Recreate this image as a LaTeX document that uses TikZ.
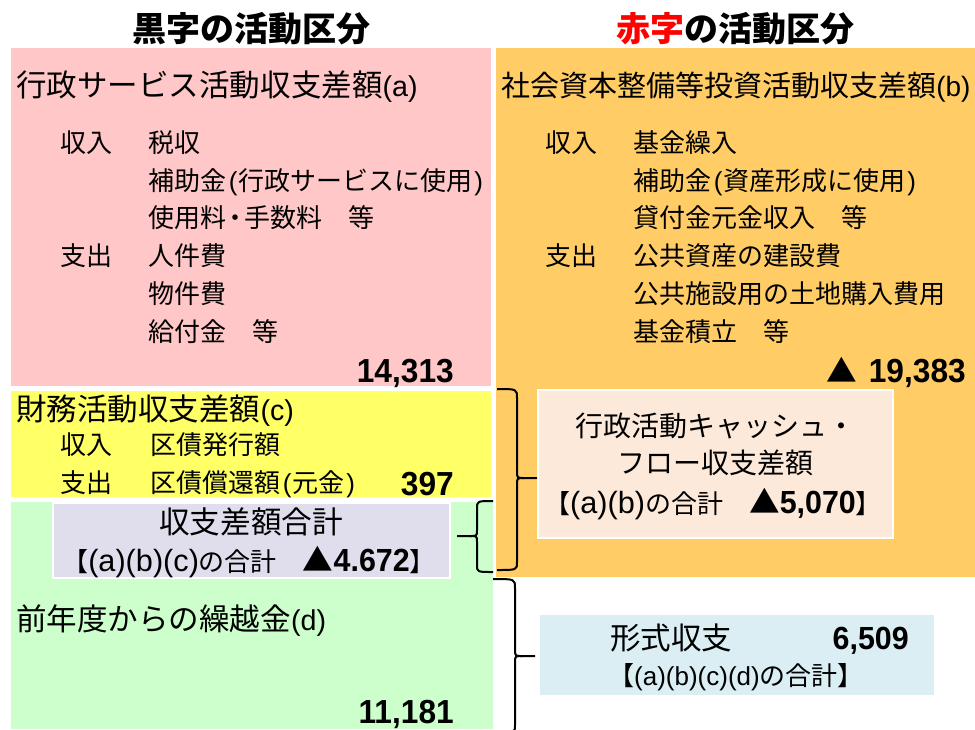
\documentclass[tikz,border=0pt]{standalone}
\usepackage{fontspec}
\setmainfont{Noto Sans CJK JP}
\newfontfamily\latf{Liberation Sans}
\newfontfamily\numf{Liberation Sans Bold}[FakeStretch=0.95]
\definecolor{pinkbg}{RGB}{255,199,199}
\definecolor{orangebg}{RGB}{255,204,102}
\definecolor{yellowbg}{RGB}{255,255,102}
\definecolor{greenbg}{RGB}{204,255,204}
\definecolor{graybg}{RGB}{224,222,236}
\definecolor{peachbg}{RGB}{252,233,218}
\definecolor{bluebg}{RGB}{218,238,243}
\newcommand\fsz[1]{\fontsize{#1}{#1}\selectfont}
\newcommand\lp{{\latf\kern2pt(\kern1pt}}
\newcommand\rp{{\latf\kern1pt)\kern2pt}}
\newcommand\tri[1]{{\normalfont\fsz{#1}\bfseries ▲}}
\newcommand\nakaguro{{\kern-3pt・\kern-3pt}}
\begin{document}
\begin{tikzpicture}[x=0.75pt,y=-0.75pt,
  txt/.style={inner sep=0pt, anchor=base west},
  txtc/.style={inner sep=0pt, anchor=base},
  txte/.style={inner sep=0pt, anchor=base east},
  head/.style={font=\fsz{22.9}},
  item/.style={font=\fsz{19.5}},
  bignum/.style={font=\fsz{25}\numf},
  title/.style={font=\fsz{25.5}\bfseries},
  brace/.style={draw=black, line width=1.5pt, line join=round}]
\useasboundingbox (0,0) rectangle (975,729);
\clip (0,0) rectangle (975,729);
% regions
\fill[pinkbg] (11,48) rectangle (491,386);
\fill[orangebg] (496,48) rectangle (975,577);
\fill[yellowbg] (11,391) rectangle (491,497);
\fill[greenbg] (11,502) rectangle (493,729);
\path[fill=graybg, draw=white, line width=1.8pt] (53,503) rectangle (450,578);
\path[fill=peachbg, draw=white, line width=2pt] (538,390) rectangle (893,538);
\path[fill=bluebg] (540,615) rectangle (934,695);
% titles
\node[txtc, title] (t1) at (251,41) {黒字の活動区分};
\node[txtc, title] (t2) at (735,41) {\textcolor{red}{赤字}の活動区分};
% (a)
\node[txt, head] (ah) at (16,96) {行政サービス活動収支差額{\latf\fsz{21.5}(a)}};
\node[txt, item] (a1) at (60,152) {収入};
\node[txt, item] (a2) at (148,152) {税収};
\node[txt, item] (a3) at (148,190) {補助金\lp 行政サービスに使用\rp};
\node[txt, item] (a4) at (148,227) {使用料\nakaguro 手数料　等};
\node[txt, item] (a5) at (60,265) {支出};
\node[txt, item] (a6) at (148,265) {人件費};
\node[txt, item] (a7) at (148,303) {物件費};
\node[txt, item] (a8) at (148,341) {給付金　等};
\node[txte, bignum] (an) at (454,382) {14,313};
% (b)
\node[txt, font=\fsz{21.75}] (bh) at (501,96) {社会資本整備等投資活動収支差額{\latf\fsz{21}(b)}};
\node[txt, item] (b1) at (545,152) {収入};
\node[txt, item] (b2) at (633,152) {基金繰入};
\node[txt, item] (b3) at (633,190) {補助金\lp 資産形成に使用\rp};
\node[txt, item] (b4) at (633,227) {貸付金元金収入　等};
\node[txt, item] (b5) at (545,265) {支出};
\node[txt, item] (b6) at (633,265) {公共資産の建設費};
\node[txt, item] (b7) at (633,303) {公共施設用の土地購入費用};
\node[txt, item] (b8) at (633,341) {基金積立　等};
\node[txte, bignum] (bn) at (966,382) {\tri{23}\hspace{9pt}19,383};
% (c)
\node[txt, head] (ch) at (16,420) {財務活動収支差額{\latf\fsz{21.5}(c)}};
\node[txt, item] (c1) at (60,454) {収入};
\node[txt, item] (c2) at (150,454) {区債発行額};
\node[txt, item] (c3) at (60,492) {支出};
\node[txt, item] (c4) at (150,492) {区債償還額\lp 元金\rp};
\node[txte, bignum] (cn) at (454,495) {397};
% total
\node[txtc, font=\fsz{23}] (g1) at (251,533) {収支差額合計};
\node[txtc, font=\fsz{19.5}] (g2) at (249,571) {【{\latf\fsz{23}(a)(b)(c)}の合計　\tri{23}{\numf\fsz{24}4.672}】};
% (d)
\node[txt, head] (dh) at (16,630) {前年度からの繰越金{\latf\fsz{21.5}(d)}};
\node[txte, bignum] (dn) at (454,723) {11,181};
% peach
\node[txtc, font=\fsz{21}] (p1) at (715,436) {行政活動キャッシュ・};
\node[txtc, font=\fsz{21}] (p2) at (715,473) {フロー収支差額};
\node[txtc, font=\fsz{19.5}] (p3) at (713,513) {【{\latf\fsz{23}(a)(b)}の合計　\tri{23}{\numf\fsz{24}5,070}】};
% blue
\node[txt, font=\fsz{22.9}] (q1) at (610,649) {形式収支};
\node[txte, font=\fsz{24}\numf] (q2) at (909,649) {6,509};
\node[txtc, font=\fsz{19.5}] (q3) at (736,685) {【{\latf\fsz{19.5}(a)(b)(c)(d)}の合計】};
% braces
\path[brace] (497,389) .. controls (517,389) .. (517,398) -- (517,471)
  .. controls (517,478) .. (524,478) -- (537,478);
\path[brace] (524,478) .. controls (517,478) .. (517,485) -- (517,562)
  .. controls (517,570) .. (497,570);
\path[brace] (493,501) .. controls (477,501) .. (477,509) -- (477,530)
  .. controls (477,536) .. (470,536) -- (457,536);
\path[brace] (470,536) .. controls (477,536) .. (477,542) -- (477,565)
  .. controls (477,572) .. (493,572);
\path[brace] (493,579) .. controls (515,579) .. (515,588) -- (515,649)
  .. controls (515,656) .. (522,656) -- (535,656);
\path[brace] (522,656) .. controls (515,656) .. (515,663) -- (515,725)
  .. controls (515,733) .. (493,733);
\end{tikzpicture}
\end{document}
